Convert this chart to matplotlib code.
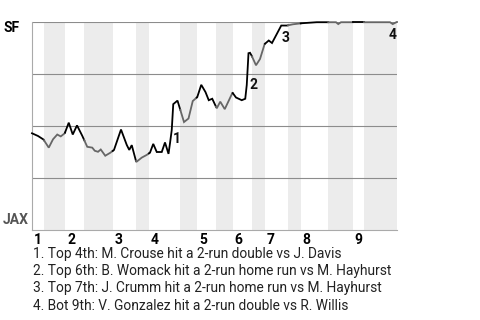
"""
Win probability chart, SF at JAX, with the key plays listed below.
"""

import numpy as np
import matplotlib
matplotlib.use('Agg')
import matplotlib.pyplot as plt

plt.rcParams['font.family'] = ['Roboto', 'DejaVu Sans']

# Game progress (pitch count) and SF win probability (%)
pitch = [0, 4.8, 9.2, 13.4, 16.8, 20.2, 23.0, 26.2, 29.4, 32.6,
         36.0, 40.2, 44.2, 48.2, 50.2, 52.8, 55.0, 58.6, 62.8, 65.6,
         71.2, 75.8, 77.8, 79.8, 83.4, 87.8, 91.8, 94.4, 97.0, 99.8,
         103.8, 106.4, 109.2, 110.4, 111.8, 113.0, 116.4, 121.6, 125.2, 128.6,
         132.2, 135.4, 138.8, 141.4, 144.2, 147.8, 150.6, 154.2, 160.4, 163.2,
         167.8, 170.6, 171.8, 173.2, 174.4, 175.8, 179.2, 182.4, 186.1, 189.4,
         192.0, 195.8, 199.4, 204.0, 208.8, 215.8, 227.8, 236.8, 243.2, 245.0,
         247.2, 264.8, 286.4, 288.6, 291.8]
sf_wp = [46.5, 45.2, 43.5, 39.6, 43.6, 45.9, 45.0, 46.5, 51.6, 45.9,
         50.3, 45.3, 40.0, 39.6, 38.1, 37.6, 38.7, 35.7, 37.2, 38.5,
         48.3, 40.9, 38.5, 40.8, 32.7, 34.8, 36.1, 37.2, 41.4, 37.5,
         37.5, 42.1, 36.6, 41.7, 48.1, 60.5, 62.2, 51.9, 53.6, 62.0,
         63.9, 69.8, 66.3, 62.4, 63.1, 58.5, 61.7, 58.1, 66.0, 63.7,
         62.4, 63.1, 69.7, 85.0, 85.2, 83.7, 79.2, 82.2, 89.4, 91.1,
         89.9, 94.2, 98.3, 98.3, 98.9, 99.4, 99.9, 99.9, 99.9, 99.0,
         99.9, 99.9, 99.9, 99.0, 100.0]

# start of every half inning (top 1, bot 1, top 2, ...) and the end of the game
half_starts = [0, 9.6, 26.4, 41.8, 64.6, 83.2, 93.6, 118.6, 131.8,
               147.2, 160.6, 176.0, 186.4, 204.8, 215.0, 237.0, 256.6, 265.6]
game_end = 292
innings = ['1', '2', '3', '4', '5', '6', '7', '8', '9']

# key plays
event_pitch = [111.8, 173.2, 199.4, 291.8]
event_marks = ['1', '2', '3', '4']
event_notes = [
    '1. Top 4th: M. Crouse hit a 2-run double vs J. Davis',
    '2. Top 6th: B. Womack hit a 2-run home run vs M. Hayhurst',
    '3. Top 7th: J. Crumm hit a 2-run home run vs M. Hayhurst',
    '4. Bot 9th: V. Gonzalez hit a 2-run double vs R. Willis',
]
away_team, home_team = 'SF', 'JAX'

fig = plt.figure(figsize=(4.8, 3.2), dpi=100)
ax = fig.add_axes([32 / 480, 90 / 320, 365 / 480, 208 / 320])

pitch = np.array(pitch)
sf_wp = np.array(sf_wp)
edges = half_starts + [game_end]

# shaded bottom halves
for i in range(1, len(half_starts), 2):
    ax.axvspan(edges[i], edges[i + 1], color='#ececec', lw=0, zorder=0)

for y in [25, 50, 75, 100]:
    ax.axhline(y, color='#8c8c8c', lw=0.8, zorder=1)

# line, black when SF bats, gray when JAX bats
for i in range(len(half_starts)):
    a, b = edges[i], edges[i + 1]
    inside = (pitch > a) & (pitch < b)
    xs = np.concatenate([[a], pitch[inside], [b]])
    ys = np.interp(xs, pitch, sf_wp)
    ax.plot(xs, ys, color='#000000' if i % 2 == 0 else '#666666',
            lw=1.3, solid_joinstyle='miter', clip_on=False, zorder=3)

ax.set_xlim(0, game_end)
ax.set_ylim(0, 100)
ax.set_xticks([])
ax.set_yticks([])
for side in ['top', 'right']:
    ax.spines[side].set_visible(False)
for side in ['left', 'bottom']:
    ax.spines[side].set_color('#aaaaaa')
    ax.spines[side].set_linewidth(0.8)

# inning numbers at the start of each top half
for k, lab in enumerate(innings):
    ax.annotate(lab, xy=(half_starts[2 * k], 0), xycoords=('data', 'axes fraction'),
                xytext=(1.5, -2), textcoords='offset points',
                ha='left', va='top', fontsize=10, fontweight='bold', color='#000000')

# event numbers beside the line
offsets = [(1, -1.5, 'left', 'top'), (1, -18, 'left', 'top'),
           (0, -4, 'left', 'top'), (0, -4, 'right', 'top')]
for xe, mark, (dx, dy, ha, va) in zip(event_pitch, event_marks, offsets):
    ye = np.interp(xe, pitch, sf_wp)
    ax.annotate(mark, xy=(xe, ye), xytext=(dx, dy), textcoords='offset points',
                ha=ha, va=va, fontsize=10, fontweight='bold', color='#111111', zorder=4)

fig.text(3 / 480, 1 - 28 / 320, away_team, ha='left', va='center',
         fontsize=10, fontweight='bold', color='#000000')
fig.text(3 / 480, 1 - 220 / 320, home_team, ha='left', va='center',
         fontsize=10, fontweight='bold', color='#555555')

for j, note in enumerate(event_notes):
    fig.text(33 / 480, 1 - (254 + 17.2 * j) / 320, note, ha='left', va='center',
             fontsize=9.9, color='#222222')

fig.savefig('out.png', dpi=100)
